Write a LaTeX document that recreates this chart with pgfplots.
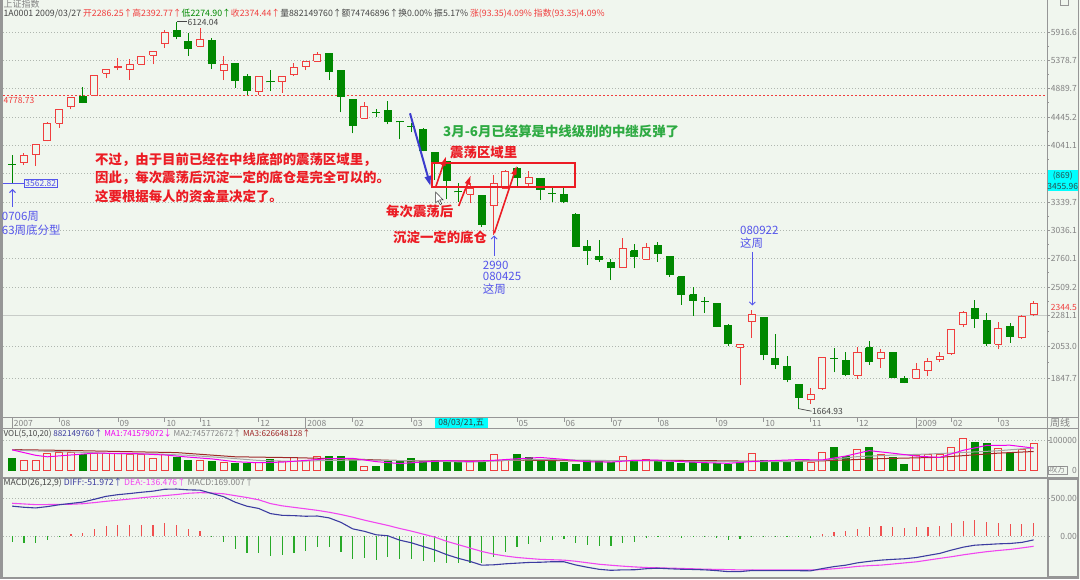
\documentclass[border=0pt]{standalone}
\usepackage{fontspec}
\setmainfont{Noto Sans CJK SC}
\usepackage{pgfplots}
\pgfplotsset{compat=1.18}
\usepackage{pgfplotstable}
\usetikzlibrary{arrows.meta}

\definecolor{bg}{RGB}{240,246,238}
\definecolor{cup}{RGB}{240,62,62}
\definecolor{cdn}{RGB}{0,136,0}
\definecolor{gridc}{RGB}{175,182,175}
\definecolor{gsolid}{RGB}{200,204,200}
\definecolor{axc}{RGB}{150,150,150}
\definecolor{txtg}{RGB}{130,130,130}
\definecolor{hdr}{RGB}{70,70,70}
\definecolor{annb}{RGB}{85,85,235}
\definecolor{annbb}{RGB}{60,60,205}
\definecolor{annr}{RGB}{236,28,36}
\definecolor{anng}{RGB}{46,170,66}
\definecolor{hlc}{RGB}{0,255,255}
\definecolor{ma1c}{RGB}{240,0,240}
\definecolor{ma2c}{RGB}{165,165,165}
\definecolor{ma3c}{RGB}{160,40,40}
\definecolor{diffc}{RGB}{60,60,160}
\definecolor{deac}{RGB}{240,70,240}
\definecolor{hred}{RGB}{240,80,80}
\definecolor{hgrn}{RGB}{40,170,40}
\definecolor{leftc}{RGB}{150,150,150}

\pgfplotstableread{
i o h l c
0 3795 3912 3562.82 3790
1 3812 3934 3782 3903
2 3921 4060 3770 4055
3 4101 4376 4095 4352
4 4352 4574 4288 4562
5 4602 4763 4562 4750
6 4771 4912 4660 4671
7 4782 5120 4782 5108
8 5149 5225 5063 5219
9 5251 5416 5207 5272
10 5219 5397 5034 5308
11 5313 5462 5305 5458
12 5476 5555 5307 5550
13 5696 5957 5612 5903
14 5943 6124.04 5773 5824
15 5740 5891 5463 5601
16 5644 6003 5620 5773
17 5746 5793 5224 5325
18 5195 5458 5034 5313
19 5325 5330 4906 5034
20 5103 5137 4787 4868
21 4840 5095 4787 5091
22 5008 5207 4852 5004
23 5006 5110 4824 5103
24 5137 5325 5103 5254
25 5265 5370 5207 5367
26 5367 5526 5360 5489
27 5506 5510 5034 5189
28 5195 5200 4516 4771
29 4723 4730 4208 4327
30 4426 4680 4420 4602
31 4521 4567 4441 4515
32 4551 4696 4338 4376
33 4378 4380 4124 4375
34 4313 4352 4222 4308
35 4265 4280 3960 3969
36 3942 3950 3600 3812
37 3834 3840 3370 3588
38 3460 3557 3343 3455
39 3428 3557 3325 3497
40 3420 3425 3074 3099
41 3306 3657 2990.79 3557
42 3497 3720 3490 3698
43 3741 3761 3525 3629
44 3557 3711 3525 3624
45 3617 3625 3362 3486
46 3441 3497 3343 3437
47 3428 3497 3325 3343
48 3208 3222 2870 2874
49 2880 2939 2702 2835
50 2785 2939 2730 2754
51 2727 2754 2569 2681
52 2681 2956 2675 2858
53 2835 2900 2672 2785
54 2757 2913 2750 2864
55 2883 2922 2732 2811
56 2785 2790 2598 2613
57 2598 2600 2366 2451
58 2447 2509 2278 2398
59 2391 2430 2303 2387
60 2371 2380 2193 2199
61 2206 2216 2057 2076
62 2048 2073 1802.33 2071
63 2235 2324 2115 2285
64 2265 2270 1962 2001
65 1974 2143 1904 1932
66 1921 1990 1821 1837
67 1805 1810 1664.93 1729
68 1717 1787 1695 1746
69 1781 1983 1775 1979
70 1975 2046 1883 1971
71 1957 2019 1858 1872
72 1866 2051 1839 2017
73 2046 2096 1931 1953
74 1974 2034 1910 2012
75 2012 2015 1848 1852
76 1845 1862 1815 1821
77 1845 1942 1842 1904
78 1898 1979 1862 1951
79 1968 2017 1953 1986
80 2005 2180 1996 2174
81 2211 2316 2193 2306
82 2332 2402.55 2186 2256
83 2240 2303 2057 2076
84 2069 2231 2034 2182
85 2199 2223 2080 2127
86 2115 2285 2108 2273
87 2286.25 2392.77 2274.90 2374.44
}\ohlc

\pgfplotstableread{
i v
1 34200
2 34200
3 57500
4 59500
5 58000
7 56000
8 56000
9 56000
10 53500
11 52500
12 39800
13 52500
16 34200
18 26500
21 26500
23 28600
24 43000
25 31400
26 46500
30 12500
39 28400
41 54000
42 31400
52 45500
54 36400
63 56800
68 26100
69 59100
72 70500
74 51100
77 47700
78 53400
79 51100
80 76100
81 104500
84 73900
86 70500
87 88215
}\volup

\pgfplotstableread{
i v
0 39000
6 52500
14 43000
15 32000
17 28600
19 21500
20 21500
22 37000
27 45500
28 45500
29 31000
31 13500
32 31500
33 28600
34 40000
35 28400
36 34200
37 29500
38 27000
40 26500
43 51000
44 41500
45 36400
46 28400
47 26100
48 20500
49 31800
50 31800
51 26100
53 31800
55 28400
56 25000
57 22700
58 28400
59 22700
60 22700
61 19300
62 25000
64 34100
65 28400
66 28400
67 30700
70 76100
71 45500
73 76100
75 42000
76 20500
82 94300
83 88600
85 56800
}\voldn

\pgfplotstableread{
i v
0 68000
2 50000
3 45000
5 51000
7 57000
10 56500
13 51000
15 44000
17 38000
19 28600
21 25200
23 27300
25 32900
27 39100
29 39800
31 28900
33 22500
35 27700
37 32300
39 29500
41 33200
43 38400
45 42700
47 36400
49 28600
51 27300
53 33400
55 33600
57 28900
59 25400
61 23200
63 29300
65 32700
67 35700
69 34500
71 47500
73 65500
75 57000
77 47500
79 42900
81 66600
83 82900
85 83600
87 74158
}\maA

\pgfplotstableread{
i v
0 68000
3 63000
6 60000
9 55000
12 55000
15 50000
18 42000
21 32800
24 29900
27 32900
30 34500
33 32500
36 30600
39 27200
42 32800
45 35900
48 34300
51 32400
54 31500
57 30000
60 29000
63 28700
66 28900
69 33100
72 45600
75 50600
78 54200
81 59300
84 65200
87 74577
}\maB

\pgfplotstableread{
i v
0 69000
5 66000
10 62000
14 59000
19 45000
24 42100
29 37300
34 31100
39 31300
44 33700
49 30900
54 33300
59 32300
64 30000
69 31500
74 38900
79 43200
84 57200
87 62665
}\maC

\pgfplotstableread{
i diff dea hist
0 396 434 -75
1 381 425 -97
2 372 416 -88
3 390 417 -53
4 414 419 -9
5 432 421 27
6 450 428 44
7 487 443 89
8 526 460 133
9 548 475 146
10 563 490 146
11 580 507 146
12 595 522 146
13 620 536 168
14 623 550 146
15 612 567 89
16 608 575 66
17 565 570 -9
18 522 560 -75
19 448 535 -173
20 395 510 -230
21 365 480 -230
22 297 430 -266
23 274 400 -252
24 270 380 -221
25 262 360 -195
26 265 340 -150
27 240 315 -150
28 181 285 -208
29 95 250 -310
30 62 210 -296
31 16 175 -319
32 3 140 -274
33 -55 100 -310
34 -90 65 -310
35 -139 25 -327
36 -185 -15 -341
37 -247 -70 -354
38 -296 -115 -363
39 -337 -160 -354
40 -387 -205 -363
41 -382 -240 -283
42 -369 -265 -208
43 -360 -285 -150
44 -351 -298 -106
45 -348 -310 -75
46 -341 -315 -53
47 -342 -320 -44
48 -384 -335 -97
49 -415 -355 -119
50 -442 -375 -133
51 -455 -388 -133
52 -449 -400 -97
53 -448 -410 -75
54 -434 -418 -31
55 -427 -422 -9
56 -435 -426 -18
57 -441 -430 -22
58 -444 -435 -18
59 -449 -440 -18
60 -459 -443 -31
61 -473 -446 -53
62 -472 -450 -44
63 -458 -451 -13
64 -460 -451 -18
65 -460 -451 -18
66 -460 -451 -18
67 -460 -451 -18
68 -462 -451 -22
69 -432 -445 27
70 -406 -435 58
71 -387 -420 66
72 -356 -403 93
73 -336 -393 115
74 -320 -386 133
75 -310 -372 124
76 -302 -357 111
77 -286 -343 115
78 -258 -320 124
79 -231 -297 133
80 -187 -275 177
81 -148 -250 204
82 -122 -228 212
83 -113 -208 190
84 -104 -192 177
85 -99 -178 159
86 -85 -158 159
87 -51.972 -136.476 169.007
}\macd

\pgfplotsset{
  upwick/.style={cup, line width=1pt, forget plot},
  upbody/.style={draw=cup, fill=bg, line width=1pt, forget plot},
  dnwick/.style={cdn, line width=1pt, forget plot},
  dnbody/.style={draw=cdn, fill=cdn, line width=1pt, forget plot},
}
\tikzset{
  rlab/.style={anchor=east, inner sep=0pt, font=\fontsize{8.5}{9}\selectfont, text=txtg},
  xlab/.style={anchor=west, inner sep=0pt, font=\fontsize{8.5}{9}\selectfont, text=txtg},
  redtxt/.style={anchor=west, inner sep=0pt, text=annr, font=\fontsize{13.4}{16}\selectfont\bfseries},
  bluetxt/.style={anchor=west, inner sep=0pt, text=annb, font=\fontsize{11.5}{13}\selectfont},
  dotgrid/.style={gridc, line width=0.7pt, dash pattern=on 1pt off 2pt},
}

% candles: prices from the table, drawn on a linear axis of ln(price)
\newcommand\drawcandles{%
  \pgfplotsforeachungrouped \candlek in {0,...,87}{%
    \pgfplotstablegetelem{\candlek}{i}\of\ohlc\let\cdlI\pgfplotsretval
    \pgfplotstablegetelem{\candlek}{o}\of\ohlc\let\cdlO\pgfplotsretval
    \pgfplotstablegetelem{\candlek}{h}\of\ohlc\let\cdlH\pgfplotsretval
    \pgfplotstablegetelem{\candlek}{l}\of\ohlc\let\cdlL\pgfplotsretval
    \pgfplotstablegetelem{\candlek}{c}\of\ohlc\let\cdlC\pgfplotsretval
    \pgfmathtruncatemacro{\cdlUp}{\cdlC>\cdlO}%
    \pgfmathsetmacro{\cdlXa}{\cdlI-0.30}%
    \pgfmathsetmacro{\cdlXb}{\cdlI+0.30}%
    \pgfmathsetmacro{\cdlo}{ln(\cdlO)}%
    \pgfmathsetmacro{\cdlh}{ln(\cdlH)}%
    \pgfmathsetmacro{\cdll}{ln(\cdlL)}%
    \pgfmathsetmacro{\cdlc}{ln(\cdlC)}%
    \ifnum\cdlUp=1
      \edef\candlecmd{\noexpand\addplot[upwick] coordinates {(\cdlI,\cdll) (\cdlI,\cdlh)};%
        \noexpand\addplot[upbody] coordinates {(\cdlXa,\cdlo) (\cdlXb,\cdlo) (\cdlXb,\cdlc) (\cdlXa,\cdlc) (\cdlXa,\cdlo)};}%
    \else
      \edef\candlecmd{\noexpand\addplot[dnwick] coordinates {(\cdlI,\cdll) (\cdlI,\cdlh)};%
        \noexpand\addplot[dnbody] coordinates {(\cdlXa,\cdlo) (\cdlXb,\cdlo) (\cdlXb,\cdlc) (\cdlXa,\cdlc) (\cdlXa,\cdlo)};}%
    \fi
    \candlecmd
  }%
}

\begin{document}
\begin{tikzpicture}
\path[use as bounding box, fill=bg] (0pt,0pt) rectangle (1080pt,579pt);

\begin{scope}[x=1pt,y=1pt]
% ---- price grid (log levels), right-axis ticks and labels ----
\foreach \yy in {547,518.66,490.3,462.0,433.7,405.3,377.0,348.65,320.3,291.97,232.32,201.0}
  \draw[dotgrid] (3,\yy) -- (1047,\yy);
\draw[gsolid, line width=0.8pt] (3,263.64) -- (1047,263.64);
\draw[cup, line width=0.8pt, dash pattern=on 2pt off 2pt] (3,483.5) -- (1047,483.5);
\foreach \yy in {547,518.66,490.3,462.0,433.7,405.3,377.0,348.65,320.3,291.97,263.64,232.32,201.0}
  \draw[axc, line width=0.7pt] (1047,\yy) -- (1050,\yy);
\foreach \yy in {532.8,504.5,476.2,447.9,419.6,391.2,362.9,334.5,306.2,277.8,248.0,216.7}
  \draw[axc, line width=0.7pt] (1047,\yy) -- (1049,\yy);
\foreach \yy/\t in {547/5916.6,518.66/5378.7,490.3/4889.7,462.0/4445.2,433.7/4041.1,377.0/3339.7,348.65/3036.1,320.3/2760.1,291.97/2509.2,263.64/2281.1,232.32/2053.0,201.0/1847.7}
  \node[rlab] at (1077,\yy) {\t};
% ---- volume / MACD grid ----
\draw[dotgrid] (3,138.7) -- (1047,138.7);
\draw[dotgrid] (3,80.7) -- (1047,80.7);
\draw[dotgrid] (3,43) -- (1047,43);
\end{scope}

% ---------------- main price panel (y = ln price) ----------------
\begin{axis}[
  at={(3pt,162.5pt)}, anchor=south west, scale only axis,
  width=1044pt, height=397.5pt,
  xmin=-0.7836, xmax=88.143,
  ymin=7.39227, ymax=8.72931,
  axis lines=none, xtick=\empty, ytick=\empty,
  clip=false,
]
\drawcandles
\end{axis}

% ---------------- volume panel ----------------
\begin{axis}[
  at={(3pt,103pt)}, anchor=south west, scale only axis,
  width=1044pt, height=47.5pt,
  xmin=-0.7836, xmax=88.143,
  ymin=-19000, ymax=139333,
  axis lines=none, xtick=\empty, ytick=\empty, scaled y ticks=false,
  clip=false,
]
\addplot[ybar, bar width=7pt, bar shift=0pt, draw=cup, fill=bg, line width=1pt] table[x=i,y=v] {\volup};
\addplot[ybar, bar width=7pt, bar shift=0pt, draw=cdn, fill=cdn, line width=1pt] table[x=i,y=v] {\voldn};
\addplot[ma3c, line width=1pt] table[x=i,y=v] {\maC};
\addplot[ma2c, line width=1pt] table[x=i,y=v] {\maB};
\addplot[ma1c, line width=1pt] table[x=i,y=v] {\maA};
\end{axis}

% ---------------- MACD panel ----------------
\begin{axis}[
  at={(3pt,2pt)}, anchor=south west, scale only axis,
  width=1044pt, height=98.5pt,
  xmin=-0.7836, xmax=88.143,
  ymin=-543.8, ymax=762.6,
  axis lines=none, xtick=\empty, ytick=\empty, scaled y ticks=false,
  clip=false,
]
\addplot[ycomb, hred, line width=1.2pt, restrict y to domain=0.01:5000] table[x=i,y=hist] {\macd};
\addplot[ycomb, hgrn, line width=1.2pt, restrict y to domain=-5000:-0.01] table[x=i,y=hist] {\macd};
\addplot[deac, line width=1.1pt] table[x=i,y=dea] {\macd};
\addplot[diffc, line width=1.1pt] table[x=i,y=diff] {\macd};
\end{axis}

\begin{scope}[x=1pt,y=1pt]
% ---------------- frame, separators ----------------
\fill[leftc] (0,0) rectangle (2.5,579);
\draw[axc, line width=1pt] (1047,0) -- (1047,579);
\draw[axc, line width=1.2pt] (1078.3,0) -- (1078.3,579);
\draw[axc, line width=0.8pt] (2.5,161.7) -- (1078.3,161.7);
\draw[axc, line width=0.8pt] (2.5,150.7) -- (1078.3,150.7);
\draw[axc, line width=2pt] (2.5,100.7) -- (1078.3,100.7);
\draw[axc, line width=1.5pt] (2.5,1) -- (1078.3,1);
\draw[axc, line width=1.2pt] (1048,2) rectangle (1077.5,99.5);
\draw[axc, line width=0.7pt] (1060,579) -- (1060,574) -- (1068.5,574) -- (1068.5,579);

% volume / macd right labels
\draw[axc, line width=0.7pt] (1047,138.7) -- (1050,138.7);
\draw[axc, line width=0.7pt] (1047,108.7) -- (1050,108.7);
\node[rlab] at (1077,138.7) {100000};
\node[rlab] at (1077,108.7) {0};
\draw[axc, line width=0.7pt] (1047,80.7) -- (1050,80.7);
\draw[axc, line width=0.7pt] (1047,43) -- (1050,43);
\draw[axc, line width=0.7pt] (1047,61.85) -- (1049,61.85);
\node[rlab] at (1077,80.7) {500.00};
\node[rlab] at (1077,43) {0.00};

% x axis labels
\foreach \x in {12.2,305.7,916.2} \draw[axc, line width=0.8pt] (\x,161.7) -- (\x,150.7);
\foreach \x in {59.2,117.9,164.8,200.0,258.7,352.7,411.4,517.0,564.0,610.9,657.9,716.6,763.6,810.5,857.5,951.4,998.4}
  \draw[axc, line width=0.8pt] (\x,161.7) -- (\x,157);
\foreach \x/\t in {12.2/2007,59.2/08,117.9/09,164.8/10,200.0/11,258.7/12,305.7/2008,352.7/02,411.4/03,517.0/05,564.0/06,610.9/07,657.9/08,716.6/09,763.6/10,810.5/11,857.5/12,916.2/2009,951.4/02,998.4/03}
  \node[xlab] at (\x+1.5,156) {\t};
\fill[hlc] (435,161.2) rectangle (487.5,151.2);
\node[inner sep=0pt, text=hdr!80!black, font=\fontsize{8.5}{9}\selectfont] at (461.2,156.2) {08/03/21,五};
\node[anchor=west, inner sep=0pt, text=txtg, font=\fontsize{10}{11}\selectfont] at (1050,156) {周线};

% right column highlight labels
\fill[hlc] (1047.5,388.3) rectangle (1078,409);
\node[inner sep=0pt, text={rgb,255:red,40;green,80;blue,80}, font=\fontsize{8.5}{9}\selectfont] at (1062.7,403.5) {(869)};
\node[inner sep=0pt, text={rgb,255:red,40;green,80;blue,80}, font=\fontsize{8.5}{9}\selectfont] at (1062.7,393) {3455.96};
\node[anchor=east, inner sep=0pt, text=cup, font=\fontsize{8.5}{9}\selectfont] at (1077,272) {2344.5};
\draw[axc, line width=0.7pt] (1048,105) rectangle (1067,112.3);
\node[inner sep=0pt, text=txtg, font=\fontsize{7.5}{8}\selectfont] at (1057.5,108.7) {叹万};

% price annotations
\node[anchor=west, inner sep=0pt, text=cup, font=\fontsize{8.5}{9}\selectfont] at (3.5,479) {4778.73};
\draw[hdr, line width=0.7pt] (176.6,557.2) -- (187,557.2);
\node[anchor=west, inner sep=0.5pt, text=hdr, font=\fontsize{8.5}{9}\selectfont] at (187,556.6) {6124.04};
\draw[hdr, line width=0.7pt] (798.8,170.3) -- (811.5,167.8);
\node[anchor=west, inner sep=0.5pt, text=hdr, font=\fontsize{8.5}{9}\selectfont] at (811.5,167.8) {1664.93};
\draw[annb, line width=0.9pt] (2.5,395.7) -- (24,395.7);
\node[anchor=west, draw=annb, fill=bg, text=annb, inner sep=1pt, line width=0.8pt, font=\fontsize{8.5}{9}\selectfont] at (24,395.7) {3562.82};

\draw[annb, line width=0.9pt, -{Straight Barb[length=3pt,width=6pt]}] (12.5,372) -- (12.5,390);
\draw[annb, line width=0.9pt, -{Straight Barb[length=3pt,width=6pt]}] (494.2,323) -- (494.2,343.5);
\draw[annb, line width=0.9pt, -{Straight Barb[length=3pt,width=6pt]}] (752.3,327) -- (752.3,273.5);

\draw[annr, line width=2pt] (431.7,415.7) rectangle (575,391.7);
\draw[annbb, line width=2pt, -{Triangle[length=10pt,width=6pt]}] (410,465.7) -- (430.5,393);
\draw[annr, line width=1.6pt, -{Triangle[length=9pt,width=5pt]}] (436,393) -- (446,422.3);
\draw[annr, line width=1.6pt, -{Triangle[length=9pt,width=5pt]}] (458.7,373) -- (470.7,403.3);
\draw[annr, line width=1.6pt, -{Triangle[length=9pt,width=5pt]}] (494.3,345.7) -- (516.7,413);

% header lines
\node[anchor=west, inner sep=0pt, text=txtg, font=\fontsize{9}{10}\selectfont] at (3.4,574.7) {上证指数};
\node[anchor=west, inner sep=0pt] at (3.4,565.2) {\resizebox{601pt}{!}{\fontsize{9}{10}\selectfont\color{hdr}1A0001 2009/03/27 \color{cup}开2286.25↑高2392.77↑\color{cdn}低2274.90↑\color{cup}收2374.44↑\color{hdr}量882149760↑额74746896↑换0.00\% 振5.17\% \color{cup}涨(93.35)4.09\% 指数(93.35)4.09\%}};
\node[anchor=west, inner sep=0pt] at (3.4,145) {\resizebox{307pt}{!}{\fontsize{9}{10}\selectfont\color{hdr}VOL(5,10,20) \color{diffc}882149760↑ \color{ma1c}MA1:741579072↓ \color{ma2c!80!black}MA2:745772672↑ \color{ma3c}MA3:626648128↑}};
\node[anchor=west, inner sep=0pt] at (3.4,96.3) {\resizebox{250pt}{!}{\fontsize{9}{10}\selectfont\color{hdr}MACD(26,12,9) \color{diffc}DIFF:-51.972↑ \color{deac}DEA:-136.476↑ \color{ma2c!80!black}MACD:169.007↑}};

% text annotations
\node[redtxt] at (95,419) {不过，由于目前已经在中线底部的震荡区域里，};
\node[redtxt] at (95,401) {因此，每次震荡后沉淀一定的底仓是完全可以的。};
\node[redtxt] at (95,383) {这要根据每人的资金量决定了。};
\node[anchor=west, inner sep=0pt, text=anng, font=\fontsize{13.4}{16}\selectfont\bfseries] at (443,447.3) {3月-6月已经算是中线级别的中继反弹了};
\node[redtxt] at (450,426.3) {震荡区域里};
\node[redtxt] at (386,367.3) {每次震荡后};
\node[redtxt] at (393,341.3) {沉淀一定的底仓};

\node[bluetxt] at (1.7,363) {0706周};
\node[bluetxt] at (1.7,349) {63周底分型};
\node[bluetxt] at (482.7,314) {2990};
\node[bluetxt] at (482.7,302.3) {080425};
\node[bluetxt] at (482.7,289.7) {这周};
\node[bluetxt] at (740,348.3) {080922};
\node[bluetxt] at (740,336.3) {这周};

% mouse cursor
\draw[black!80, fill=white, line width=0.5pt] (435.5,387) -- ++(0,-11) -- ++(2.6,2.4) -- ++(2,-4) -- ++(1.6,0.8) -- ++(-2,3.9) -- ++(3.5,0) -- cycle;
\end{scope}
\end{tikzpicture}
\end{document}
